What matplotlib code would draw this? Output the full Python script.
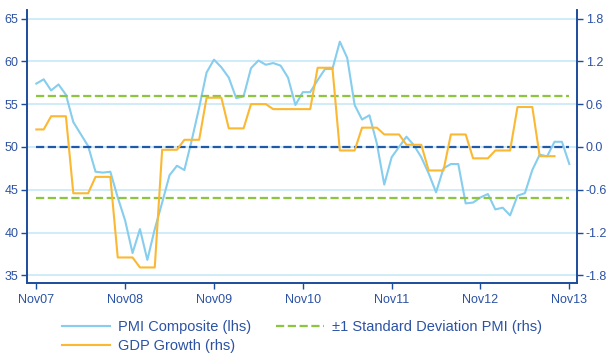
import numpy as np
import matplotlib
matplotlib.use("Agg")
import matplotlib.pyplot as plt

plt.rcParams['font.family'] = ['Liberation Sans', 'DejaVu Sans']

# Monthly PMI composite, Nov 2007 .. Nov 2013 (left axis)
pmi = [57.4, 57.9, 56.6, 57.3, 56.1, 52.9, 51.5, 50.1, 47.1, 47.0, 47.1, 44.1,
       41.4, 37.6, 40.4, 36.8, 40.4, 43.5, 46.7, 47.8, 47.3, 50.8, 54.6, 58.7,
       60.2, 59.3, 58.1, 55.7, 55.9, 59.2, 60.1, 59.6, 59.8, 59.5, 58.1, 54.9,
       56.4, 56.4, 57.8, 59.1, 59.1, 62.3, 60.4, 54.9, 53.2, 53.7, 50.4, 45.6,
       48.8, 50.0, 51.2, 50.2, 48.8, 46.9, 44.7, 47.5, 48.0, 48.0, 43.4, 43.5,
       44.1, 44.5, 42.7, 42.9, 42.0, 44.3, 44.6, 47.3, 49.1, 48.9, 50.6, 50.6,
       48.0]

# Quarterly GDP growth (right axis), Q4 2007 .. Q3 2013
gdp_quarterly = [0.245, 0.43, -0.65, -0.42, -1.55, -1.69, -0.04, 0.10, 0.69,
                 0.26, 0.60, 0.53, 0.53, 1.11, -0.05, 0.27, 0.175, 0.03,
                 -0.33, 0.175, -0.16, -0.05, 0.56, -0.13]
# months of each quarter covered by the series (Q4 2007 starts in November)
gdp_months = [2] + [3] * (len(gdp_quarterly) - 1)

pmi_std = 0.71
tick_labels = ['Nov07', 'Nov08', 'Nov09', 'Nov10', 'Nov11', 'Nov12', 'Nov13']

lhs_ticks = [35, 40, 45, 50, 55, 60, 65]
rhs_ticks = [-1.8, -1.2, -0.6, 0.0, 0.6, 1.2, 1.8]

c_pmi = '#86cdee'
c_gdp = '#fbb832'
c_std = '#8cc63f'
c_zero = '#1f5aa8'
c_axis = '#1c4c9c'
c_text = '#2c52a4'
c_grid = '#c8e9f8'

months = np.arange(len(pmi))
gdp = np.repeat(gdp_quarterly, gdp_months)
gdp_x = np.arange(len(gdp))

fig = plt.figure(figsize=(6.16, 3.53), dpi=100)
ax = fig.add_axes([0.0438, 0.1983, 0.9372 - 0.0438, 0.9717 - 0.1983])
ax2 = ax.twinx()

lo, hi = 34.1, 66.0
ax.set_ylim(lo, hi)
ax2.set_ylim((lo - 50) * 0.12, (hi - 50) * 0.12)
ax.set_xlim(-1.26, 73.08)

for v in lhs_ticks:
    ax.axhline(v, color=c_grid, lw=1.2, zorder=0)

l_pmi, = ax.plot(months, pmi, color=c_pmi, lw=1.5, zorder=2,
                 label='PMI Composite (lhs)')

x_span = [months[0], months[-1]]
l_std, = ax2.plot(x_span, [pmi_std, pmi_std], color=c_std, lw=1.6,
                  dashes=(3.7, 1.6), label='\u00b11 Standard Deviation PMI (rhs)')
ax2.plot(x_span, [-pmi_std, -pmi_std], color=c_std, lw=1.6, dashes=(3.7, 1.6))
ax2.plot(x_span, [0, 0], color=c_zero, lw=1.6, dashes=(3.7, 1.6))
l_gdp, = ax2.plot(gdp_x, gdp, color=c_gdp, lw=1.5, label='GDP Growth (rhs)')

ax.set_yticks(lhs_ticks)
ax2.set_yticks(rhs_ticks)
ax2.set_yticklabels([f'{v:.1f}' for v in rhs_ticks])
ax.set_xticks(np.arange(0, 73, 12))
ax.set_xticklabels(tick_labels)

for a in (ax, ax2):
    for s in a.spines.values():
        s.set_color(c_axis)
        s.set_linewidth(1.2)
    a.spines['top'].set_visible(False)
    a.tick_params(colors=c_axis, labelcolor=c_text, labelsize=9,
                  length=4, width=1.0)
ax.tick_params(axis='x', pad=4)
ax.tick_params(axis='y', pad=2)
ax2.tick_params(axis='y', pad=2)

fig.legend(handles=[l_pmi, l_gdp, l_std], ncol=2, frameon=False,
           loc='upper left', bbox_to_anchor=(0.1006, 0.094),
           fontsize=10.5, handlelength=3.3, handletextpad=0.55,
           columnspacing=1.7, labelspacing=0.38, labelcolor=c_text,
           borderpad=0, borderaxespad=0)

fig.savefig('out.png', dpi=100)
